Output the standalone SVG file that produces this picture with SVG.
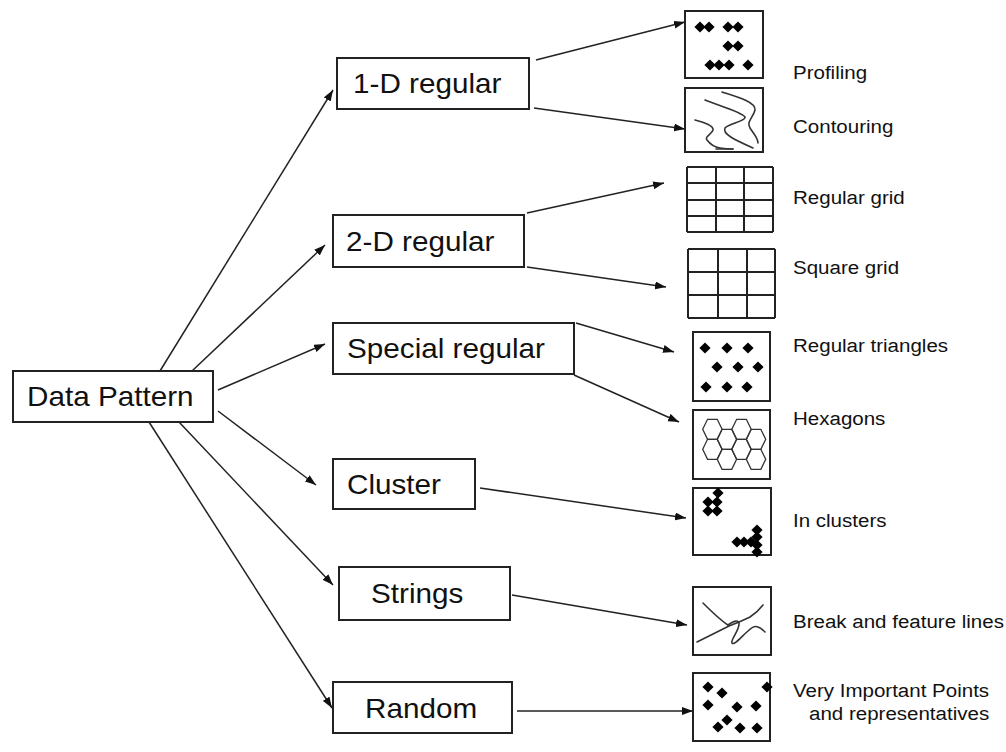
<svg xmlns="http://www.w3.org/2000/svg" xmlns:xlink="http://www.w3.org/1999/xlink" width="1006" height="752" viewBox="0 0 1006 752">
  <style>
    .node { fill: #fff; stroke: #222; stroke-width: 2; }
    .ntext { font-family: "Liberation Sans", Arial, sans-serif; font-size: 28px; fill: #111; }
    .ltext { font-family: "Liberation Sans", Arial, sans-serif; font-size: 19px; fill: #111; }
    .conn { fill: none; stroke: #222; stroke-width: 1.5; marker-end: url(#arrow); }
    .icon { fill: #fff; stroke: #222; stroke-width: 2; }
    .grid { fill: none; stroke: #222; stroke-width: 2; }
    .curve { fill: none; stroke: #333; stroke-width: 1.6; stroke-linecap: round; }
    .hex { fill: none; stroke: #333; stroke-width: 1.3; }
    .dot { fill: #000; }
  </style>
  <defs>
    <marker id="arrow" markerUnits="userSpaceOnUse" markerWidth="11" markerHeight="8" refX="11" refY="4" orient="auto">
      <path d="M0,0 L11,4 L0,8 Z" fill="#111"/>
    </marker>
    <path id="dm" class="dot" d="M0,-5.6 L5.6,0 L0,5.6 L-5.6,0 Z"/>
    <path id="hx" class="hex" d="M-9.7,0 L-4.85,-10 L4.85,-10 L9.7,0 L4.85,10 L-4.85,10 Z"/>
  </defs>

  <rect width="1006" height="752" fill="#fff"/>

  <!-- connectors -->
  <g id="connectors">
    <path class="conn" d="M160,371 L333,90"/>
    <path class="conn" d="M192,371 L325,245"/>
    <path class="conn" d="M218,390 L325,344"/>
    <path class="conn" d="M218,411 L316,485"/>
    <path class="conn" d="M179,422 L333,585"/>
    <path class="conn" d="M149,422 L332,708"/>
    <path class="conn" d="M536,60 L685,22"/>
    <path class="conn" d="M534,108 L685,129"/>
    <path class="conn" d="M527,213 L664,183"/>
    <path class="conn" d="M527,267 L666,287"/>
    <path class="conn" d="M576,323 L674,352"/>
    <path class="conn" d="M574,375 L679,422"/>
    <path class="conn" d="M480,488 L686,518"/>
    <path class="conn" d="M512,595 L687,625"/>
    <path class="conn" d="M517,711 L693,711"/>
  </g>

  <!-- category nodes -->
  <g id="data-pattern">
    <rect class="node" x="13" y="371" width="200" height="51"/>
    <text class="ntext" transform="translate(27,406) scale(1.06,1)">Data Pattern</text>
  </g>
  <g id="one-d-regular">
    <rect class="node" x="337" y="58" width="192" height="51"/>
    <text class="ntext" transform="translate(353,93) scale(1.06,1)">1-D regular</text>
  </g>
  <g id="two-d-regular">
    <rect class="node" x="333" y="215" width="191" height="52"/>
    <text class="ntext" transform="translate(346,251) scale(1.06,1)">2-D regular</text>
  </g>
  <g id="special-regular">
    <rect class="node" x="333" y="323" width="241" height="51"/>
    <text class="ntext" transform="translate(347,358) scale(1.06,1)">Special regular</text>
  </g>
  <g id="cluster">
    <rect class="node" x="333" y="459" width="142" height="50"/>
    <text class="ntext" transform="translate(347,494) scale(1.06,1)">Cluster</text>
  </g>
  <g id="strings">
    <rect class="node" x="339" y="567" width="171" height="53"/>
    <text class="ntext" transform="translate(371,603) scale(1.06,1)">Strings</text>
  </g>
  <g id="random">
    <rect class="node" x="333" y="682" width="179" height="51"/>
    <text class="ntext" transform="translate(365,718) scale(1.06,1)">Random</text>
  </g>

  <!-- sample icons -->
  <g id="profiling">
    <rect class="icon" x="685" y="11" width="78" height="67"/>
    <use xlink:href="#dm" x="700" y="27"/><use xlink:href="#dm" x="709" y="27"/>
    <use xlink:href="#dm" x="728" y="27"/><use xlink:href="#dm" x="738" y="27"/>
    <use xlink:href="#dm" x="728" y="46"/><use xlink:href="#dm" x="738" y="46"/>
    <use xlink:href="#dm" x="710" y="65"/><use xlink:href="#dm" x="719" y="65"/>
    <use xlink:href="#dm" x="729" y="65"/><use xlink:href="#dm" x="748" y="65"/>
    <text class="ltext" transform="translate(793,79) scale(1.08,1)">Profiling</text>
  </g>
  <g id="contouring">
    <rect class="icon" x="685" y="88" width="78" height="64"/>
    <path class="curve" d="M722,92 C738,97 756,102 755,110 C753,118 746,122 750,128 C754,134 758,138 758,143"/>
    <path class="curve" d="M705,100 C720,106 742,112 745,117 C746,121 728,124 725,128 C722,134 735,140 753,148"/>
    <path class="curve" d="M695,120 C704,122 714,126 713,130 C712,134 704,137 707,140 C710,144 714,147 720,148 C726,149 730,149 733,149"/>
    <path class="curve" d="M716,149 L733,149" stroke-width="2.4"/>
    <text class="ltext" transform="translate(793,133) scale(1.08,1)">Contouring</text>
  </g>
  <g id="regular-grid">
    <path class="grid" d="M687,167 H773 M687,183 H773 M687,200 H773 M687,216 H773 M687,232 H773 M687,167 V232 M716,167 V232 M744,167 V232 M773,167 V232"/>
    <text class="ltext" transform="translate(793,204) scale(1.08,1)">Regular grid</text>
  </g>
  <g id="square-grid">
    <path class="grid" d="M688,249 H775 M688,272 H775 M688,295 H775 M688,318 H775 M688,249 V318 M718,249 V318 M747,249 V318 M775,249 V318"/>
    <text class="ltext" transform="translate(793,274) scale(1.08,1)">Square grid</text>
  </g>
  <g id="regular-triangles">
    <rect class="icon" x="693" y="332" width="77" height="69"/>
    <use xlink:href="#dm" x="705" y="348"/><use xlink:href="#dm" x="727" y="348"/><use xlink:href="#dm" x="748" y="348"/>
    <use xlink:href="#dm" x="717" y="367"/><use xlink:href="#dm" x="738" y="367"/><use xlink:href="#dm" x="758" y="367"/>
    <use xlink:href="#dm" x="706" y="387"/><use xlink:href="#dm" x="727" y="387"/><use xlink:href="#dm" x="747" y="387"/>
    <text class="ltext" transform="translate(793,352) scale(1.08,1)">Regular triangles</text>
  </g>
  <g id="hexagons">
    <rect class="icon" x="693" y="410" width="77" height="69"/>
    <use xlink:href="#hx" x="712.4" y="429.3"/><use xlink:href="#hx" x="712.4" y="449.3"/>
    <use xlink:href="#hx" x="726.9" y="439.3"/><use xlink:href="#hx" x="726.9" y="459.3"/>
    <use xlink:href="#hx" x="741.5" y="429.3"/><use xlink:href="#hx" x="741.5" y="449.3"/>
    <use xlink:href="#hx" x="756" y="439.3"/><use xlink:href="#hx" x="756" y="459.3"/>
    <text class="ltext" transform="translate(793,425) scale(1.08,1)">Hexagons</text>
  </g>
  <g id="in-clusters">
    <rect class="icon" x="693" y="488" width="78" height="67"/>
    <use xlink:href="#dm" x="718" y="493"/>
    <use xlink:href="#dm" x="708" y="502"/><use xlink:href="#dm" x="717" y="502"/>
    <use xlink:href="#dm" x="708" y="511"/><use xlink:href="#dm" x="717" y="511"/>
    <use xlink:href="#dm" x="737" y="542"/><use xlink:href="#dm" x="744" y="542"/><use xlink:href="#dm" x="751" y="542"/>
    <use xlink:href="#dm" x="757" y="530"/><use xlink:href="#dm" x="757" y="537"/>
    <use xlink:href="#dm" x="757" y="545"/><use xlink:href="#dm" x="757" y="552"/>
    <text class="ltext" transform="translate(793,527) scale(1.08,1)">In clusters</text>
  </g>
  <g id="break-lines">
    <rect class="icon" x="693" y="587" width="78" height="68"/>
    <path class="curve" d="M697,642 L727,627 C734,624 742,621 750,617 C756,613 760,609 763,605"/>
    <path class="curve" d="M703,603 C712,612 720,620 728,625"/>
    <path class="curve" d="M728,625 C732,622 738,619 739,623 C740,630 730,640 732,643 C734,646 742,636 748,631 C752,627 756,626 758,627 C761,628 763,630 765,632"/>
    <text class="ltext" transform="translate(793,628) scale(1.08,1)">Break and feature lines</text>
  </g>
  <g id="very-important-points">
    <rect class="icon" x="693" y="673" width="77" height="68"/>
    <use xlink:href="#dm" x="708" y="687"/><use xlink:href="#dm" x="722" y="693"/><use xlink:href="#dm" x="767" y="687"/>
    <use xlink:href="#dm" x="708" y="705"/><use xlink:href="#dm" x="737" y="707"/><use xlink:href="#dm" x="756" y="706"/>
    <use xlink:href="#dm" x="727" y="720"/><use xlink:href="#dm" x="718" y="727"/>
    <use xlink:href="#dm" x="740" y="728"/><use xlink:href="#dm" x="757" y="728"/>
    <text class="ltext" transform="translate(793,697) scale(1.08,1)">Very Important Points</text>
    <text class="ltext" transform="translate(809,720) scale(1.08,1)">and representatives</text>
  </g>
</svg>
